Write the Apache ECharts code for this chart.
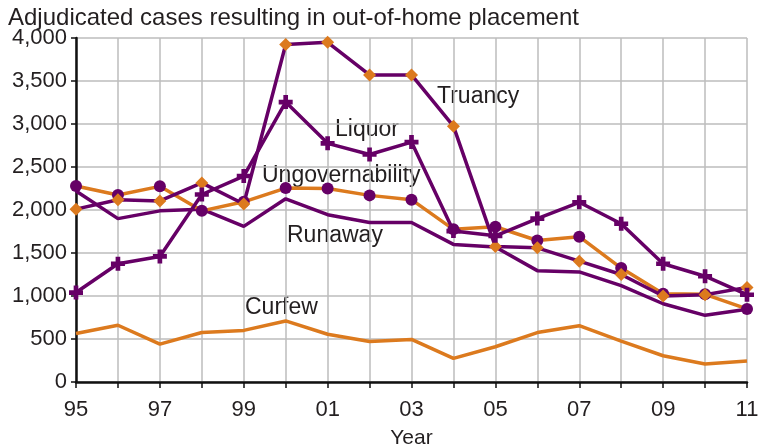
<!DOCTYPE html>
<html>
<head>
<meta charset="utf-8">
<script src="https://cdn.jsdelivr.net/npm/echarts@6/dist/echarts.min.js"></script>
<style>
  html, body { margin: 0; padding: 0; background: #fff; }
  #chart { width: 772px; height: 447px; }
</style>
</head>
<body>
<div id="chart"></div>
<script>
// Years (two-digit labels), 1995 through 2011
const years = ['95','96','97','98','99','00','01','02','03','04','05','06','07','08','09','10','11'];

// Adjudicated status offense cases resulting in out-of-home placement
const truancy  = [2010, 2120, 2105, 2315, 2070, 3925, 3950, 3570, 3570, 2975, 1575, 1560, 1405, 1250, 1000, 1015, 1100];
const liquor   = [1040, 1375, 1460, 2180, 2395, 3255, 2775, 2645, 2790, 1755, 1700, 1900, 2090, 1840, 1375, 1230, 1015];
const ungov    = [2280, 2175, 2275, 1990, 2095, 2255, 2250, 2170, 2120, 1775, 1805, 1645, 1690, 1325, 1025, 1020, 850];
const runaway  = [2220, 1900, 1990, 2010, 1810, 2130, 1945, 1855, 1855, 1600, 1570, 1295, 1280, 1120, 910, 775, 845];
const curfew   = [565, 660, 440, 575, 600, 710, 555, 470, 495, 275, 410, 575, 655, 475, 305, 210, 245];

const yTicks = { min: 0, max: 4000, step: 500 };

const PURPLE = '#660066';
const ORANGE = '#dc7a1e';
const FONT = '"Liberation Sans", Arial, Helvetica, sans-serif';
const TEXT = '#231f20';

// thick plus sign used for the Liquor markers
const crossPath = 'path://M4,0H8V4H12V8H8V12H4V8H0V4H4Z';

const chart = echarts.init(document.getElementById('chart'), null, { renderer: 'canvas' });

function lineSeries(name, data, color, symbol, symbolColor, symbolSize, z) {
  return {
    name: name,
    type: 'line',
    data: data,
    z: z,
    symbol: symbol,
    symbolSize: symbolSize,
    showSymbol: symbol !== 'none',
    lineStyle: { color: color, width: 3.5 },
    itemStyle: { color: symbolColor, borderWidth: 0 },
    emphasis: { disabled: true },
    animation: false
  };
}

const seriesLabels = [
  { text: 'Truancy', x: 437, y: 97 },
  { text: 'Liquor', x: 335, y: 130 },
  { text: 'Ungovernability', x: 262, y: 176 },
  { text: 'Runaway', x: 287, y: 236 },
  { text: 'Curfew', x: 245, y: 308 }
];

chart.setOption({
  animation: false,
  backgroundColor: '#fff',
  grid: { left: 76, right: 25, top: 38, bottom: 65, containLabel: false, outerBoundsMode: 'none' },
  xAxis: {
    type: 'category',
    data: years,
    boundaryGap: false,
    name: 'Year',
    nameLocation: 'middle',
    nameGap: 46,
    nameTextStyle: { fontFamily: FONT, fontSize: 21, color: TEXT },
    axisLine: { show: true, lineStyle: { color: '#111', width: 2.5 } },
    axisTick: { show: true, interval: 0, length: 6, lineStyle: { color: '#111', width: 1.5 } },
    axisLabel: { interval: 1, fontFamily: FONT, fontSize: 22, color: TEXT, margin: 17 },
    splitLine: { show: true, interval: 0, lineStyle: { color: '#bdbdbd', width: 1.5 } }
  },
  yAxis: {
    type: 'value',
    min: yTicks.min,
    max: yTicks.max,
    interval: yTicks.step,
    axisLine: { show: true, lineStyle: { color: '#111', width: 2.5 } },
    axisTick: { show: true, length: 5, lineStyle: { color: '#111', width: 1.5 } },
    axisLabel: {
      fontFamily: FONT, fontSize: 22, color: TEXT, margin: 9,
      formatter: v => v.toLocaleString('en-US')
    },
    splitLine: { show: true, lineStyle: { color: '#bdbdbd', width: 1.5 } }
  },
  series: [
    lineSeries('Curfew', curfew, ORANGE, 'none', ORANGE, 0, 2),
    lineSeries('Runaway', runaway, PURPLE, 'none', PURPLE, 0, 3),
    lineSeries('Ungovernability', ungov, ORANGE, 'circle', PURPLE, 12, 4),
    lineSeries('Truancy', truancy, PURPLE, 'diamond', ORANGE, 13, 5),
    lineSeries('Liquor', liquor, PURPLE, crossPath, PURPLE, 14, 6)
  ],
  graphic: [
    {
      type: 'text', x: 8, y: 18,
      style: { text: 'Adjudicated cases resulting in out-of-home placement', font: '24px ' + FONT, fill: TEXT, verticalAlign: 'middle' }
    }
  ].concat(seriesLabels.map(l => ({
    type: 'text', x: l.x, y: l.y,
    style: { text: l.text, font: '23px ' + FONT, fill: TEXT, verticalAlign: 'middle' }
  })))
});
</script>
</body>
</html>
